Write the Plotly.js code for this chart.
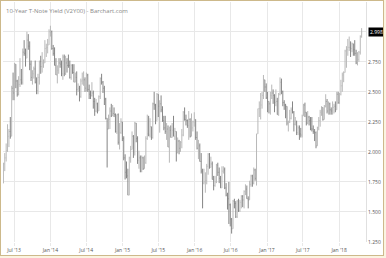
<!DOCTYPE html>
<html><head><meta charset="utf-8">
<script src="https://cdn.plot.ly/plotly-3.0.1.min.js"></script>
<style>
html,body{margin:0;padding:0;background:#fbf4e2;width:386px;height:258px;overflow:hidden}
#frame{position:absolute;left:0;top:0;width:382px;height:254px;border:1px solid #cdb98b;background:#fff}
#chart{width:382px;height:254px}
</style></head><body>
<div id="frame"><div id="chart"></div></div>
<script>
const chartTitle = "10-Year T-Note Yield (V2Y00) - Barchart.com";
const firstWeek = "2013-05-08"; // weekly bars, one per week
const lastPrice = 2.998;

const openVals = [
// 2013
1.74,1.90,1.95,2.01,2.13,2.17,2.13,2.53,2.49,2.73,2.59,2.48,2.56,2.60,2.58,2.83,2.82,2.78,2.93,2.88,2.73,2.62,2.65,2.69,2.58,2.51,2.62,2.75,2.71,2.74,2.74,2.86,2.87,2.89,
// 2014
3.00,3.00,2.86,2.82,2.72,2.64,2.68,2.74,2.73,2.65,2.79,2.65,2.74,2.72,2.72,2.62,2.72,2.66,2.58,2.62,2.52,2.53,2.46,2.59,2.60,2.60,2.53,2.64,2.52,2.48,2.47,2.49,2.42,2.34,2.40,2.34,2.46,2.61,2.58,2.53,2.44,2.28,2.19,2.27,2.34,2.30,2.32,2.31,2.17,2.31,2.08,2.16,
// 2015
2.25,2.11,1.95,1.83,1.80,1.64,1.95,2.02,2.13,2.00,2.24,2.11,1.93,1.95,1.84,1.95,1.86,1.91,2.11,2.15,2.14,2.21,2.12,2.40,2.39,2.26,2.48,2.38,2.40,2.35,2.26,2.20,2.17,2.19,2.04,2.18,2.12,2.18,2.13,2.17,1.99,2.09,2.03,2.08,2.14,2.33,2.27,2.26,2.22,2.27,2.13,2.20,
// 2016
2.25,2.27,2.12,2.03,2.05,1.92,1.84,1.74,1.75,1.76,1.88,1.98,1.87,1.90,1.77,1.72,1.75,1.89,1.83,1.78,1.70,1.84,1.85,1.70,1.64,1.61,1.56,1.44,1.36,1.59,1.57,1.46,1.59,1.51,1.58,1.63,1.60,1.67,1.69,1.61,1.60,1.73,1.80,1.74,1.85,1.78,2.15,2.36,2.36,2.39,2.47,2.60,2.54,
// 2017
2.45,2.42,2.40,2.47,2.49,2.47,2.41,2.42,2.31,2.48,2.58,2.50,2.41,2.39,2.38,2.24,2.25,2.28,2.35,2.33,2.23,2.25,2.16,2.20,2.15,2.14,2.30,2.39,2.33,2.24,2.29,2.26,2.19,2.19,2.17,2.16,2.05,2.20,2.26,2.33,2.37,2.27,2.38,2.42,2.34,2.40,2.35,2.34,2.37,2.38,2.35,2.48,
// 2018
2.41,2.48,2.55,2.64,2.66,2.84,2.85,2.87,2.87,2.86,2.90,2.85,2.82,2.74,2.77,2.83,2.96
];
const highVals = [
// 2013
1.91,1.99,2.07,2.23,2.19,2.29,2.55,2.66,2.74,2.73,2.60,2.63,2.78,2.69,2.86,2.93,2.86,3.00,2.98,2.92,2.76,2.68,2.71,2.76,2.62,2.65,2.76,2.80,2.83,2.77,2.93,2.90,2.94,3.02,
// 2014
3.05,3.01,2.89,2.87,2.78,2.72,2.78,2.78,2.76,2.81,2.81,2.80,2.78,2.81,2.76,2.73,2.73,2.73,2.66,2.67,2.57,2.55,2.61,2.66,2.67,2.62,2.66,2.65,2.56,2.51,2.58,2.51,2.45,2.44,2.41,2.47,2.62,2.65,2.59,2.55,2.45,2.28,2.31,2.37,2.40,2.39,2.37,2.32,2.31,2.32,2.24,2.28,
// 2015
2.25,2.13,1.98,1.92,1.86,1.96,2.05,2.17,2.14,2.25,2.24,2.13,2.01,1.97,1.97,1.96,1.97,2.13,2.31,2.30,2.28,2.21,2.41,2.50,2.40,2.49,2.48,2.43,2.47,2.38,2.30,2.30,2.24,2.22,2.21,2.22,2.24,2.30,2.20,2.17,2.12,2.10,2.09,2.19,2.34,2.37,2.31,2.27,2.34,2.28,2.32,2.26,
// 2016
2.33,2.27,2.17,2.10,2.07,1.99,1.86,1.86,1.83,1.90,1.99,1.99,1.96,1.92,1.80,1.80,1.90,1.91,1.87,1.80,1.88,1.88,1.87,1.74,1.66,1.75,1.57,1.45,1.60,1.61,1.59,1.60,1.61,1.60,1.64,1.64,1.68,1.73,1.72,1.63,1.76,1.81,1.81,1.87,1.86,2.15,2.36,2.42,2.49,2.50,2.64,2.60,2.57,
// 2017
2.50,2.42,2.50,2.56,2.52,2.48,2.52,2.45,2.49,2.62,2.61,2.51,2.43,2.40,2.38,2.26,2.35,2.37,2.42,2.34,2.29,2.26,2.22,2.22,2.20,2.31,2.40,2.41,2.33,2.34,2.30,2.29,2.29,2.22,2.19,2.17,2.21,2.29,2.35,2.38,2.37,2.39,2.48,2.44,2.42,2.41,2.37,2.42,2.40,2.42,2.50,2.50,
// 2018
2.49,2.60,2.66,2.67,2.85,2.88,2.94,2.96,2.92,2.91,2.90,2.93,2.85,2.83,2.84,2.97,3.03
];
const lowVals = [
// 2013
1.74,1.84,1.92,2.00,2.04,2.11,2.13,2.43,2.43,2.53,2.46,2.47,2.54,2.56,2.56,2.80,2.71,2.78,2.85,2.68,2.59,2.56,2.61,2.57,2.48,2.48,2.56,2.65,2.66,2.70,2.74,2.79,2.82,2.89,
// 2014
2.96,2.85,2.80,2.72,2.64,2.57,2.65,2.70,2.63,2.60,2.63,2.64,2.66,2.70,2.61,2.60,2.65,2.58,2.58,2.47,2.50,2.42,2.45,2.56,2.55,2.50,2.50,2.50,2.44,2.44,2.46,2.36,2.30,2.33,2.32,2.34,2.44,2.56,2.49,2.39,2.27,1.87,2.19,2.19,2.29,2.30,2.29,2.16,2.15,2.06,2.02,2.15,
// 2015
2.09,1.93,1.77,1.78,1.64,1.64,1.91,2.02,1.95,1.97,2.08,1.90,1.86,1.83,1.83,1.85,1.86,1.90,2.10,2.13,2.12,2.10,2.11,2.35,2.23,2.26,2.29,2.16,2.33,2.25,2.18,2.15,2.10,2.04,1.91,2.12,2.12,2.13,2.10,1.92,1.99,1.98,2.00,2.03,2.13,2.26,2.22,2.20,2.10,2.12,2.13,2.17,
// 2016
2.21,2.10,2.02,1.94,1.92,1.82,1.53,1.73,1.66,1.73,1.81,1.86,1.87,1.77,1.68,1.71,1.74,1.80,1.74,1.70,1.70,1.82,1.69,1.63,1.52,1.40,1.38,1.32,1.36,1.53,1.45,1.45,1.50,1.50,1.53,1.54,1.53,1.64,1.61,1.53,1.60,1.71,1.71,1.73,1.76,1.72,2.15,2.29,2.27,2.36,2.44,2.50,2.44,
// 2017
2.33,2.32,2.31,2.44,2.40,2.33,2.38,2.31,2.30,2.47,2.48,2.38,2.35,2.28,2.22,2.17,2.24,2.27,2.32,2.17,2.22,2.14,2.14,2.10,2.12,2.12,2.30,2.29,2.22,2.23,2.22,2.18,2.17,2.15,2.09,2.03,2.05,2.18,2.21,2.30,2.26,2.27,2.37,2.32,2.31,2.31,2.31,2.31,2.32,2.33,2.35,2.40,
// 2018
2.40,2.47,2.50,2.58,2.66,2.70,2.80,2.84,2.79,2.83,2.80,2.80,2.73,2.72,2.75,2.81,2.95
];
const closeVals = [
// 2013
1.90,1.95,2.01,2.13,2.17,2.13,2.53,2.49,2.73,2.59,2.48,2.56,2.60,2.58,2.83,2.82,2.78,2.93,2.88,2.73,2.62,2.65,2.69,2.58,2.51,2.62,2.75,2.71,2.74,2.74,2.86,2.87,2.89,3.00,
// 2014
3.00,2.86,2.82,2.72,2.64,2.68,2.74,2.73,2.65,2.79,2.65,2.74,2.72,2.72,2.62,2.72,2.66,2.58,2.62,2.52,2.53,2.46,2.59,2.60,2.60,2.53,2.64,2.52,2.48,2.47,2.49,2.42,2.34,2.40,2.34,2.46,2.61,2.58,2.53,2.44,2.28,2.19,2.27,2.34,2.30,2.32,2.31,2.17,2.31,2.08,2.16,2.25,
// 2015
2.11,1.95,1.83,1.80,1.64,1.95,2.02,2.13,2.00,2.24,2.11,1.93,1.95,1.84,1.95,1.86,1.91,2.11,2.15,2.14,2.21,2.12,2.40,2.39,2.26,2.48,2.38,2.40,2.35,2.26,2.20,2.17,2.19,2.04,2.18,2.12,2.18,2.13,2.17,1.99,2.09,2.03,2.08,2.14,2.33,2.27,2.26,2.22,2.27,2.13,2.20,2.25,
// 2016
2.27,2.12,2.03,2.05,1.92,1.84,1.74,1.75,1.76,1.88,1.98,1.87,1.90,1.77,1.72,1.75,1.89,1.83,1.78,1.70,1.84,1.85,1.70,1.64,1.61,1.56,1.44,1.36,1.59,1.57,1.46,1.59,1.51,1.58,1.63,1.60,1.67,1.69,1.61,1.60,1.73,1.80,1.74,1.85,1.78,2.15,2.36,2.36,2.39,2.47,2.60,2.54,2.45,
// 2017
2.42,2.40,2.47,2.49,2.47,2.41,2.42,2.31,2.48,2.58,2.50,2.41,2.39,2.38,2.24,2.25,2.28,2.35,2.33,2.23,2.25,2.16,2.20,2.15,2.14,2.30,2.39,2.33,2.24,2.29,2.26,2.19,2.19,2.17,2.16,2.05,2.20,2.26,2.33,2.37,2.27,2.38,2.42,2.34,2.40,2.35,2.34,2.37,2.38,2.35,2.48,2.41,
// 2018
2.48,2.55,2.64,2.66,2.84,2.85,2.87,2.87,2.86,2.90,2.85,2.82,2.74,2.77,2.83,2.96,2.998
];

const yTickVals = [1.25,1.5,1.75,2.0,2.25,2.5,2.75,3.0];
const yTickText = ['1.250','1.500','1.750','2.000','2.250','2.500','2.750',''];
const xTickVals = ['2013-07-01','2014-01-01','2014-07-01','2015-01-01','2015-07-01','2016-01-01','2016-07-01','2017-01-01','2017-07-01','2018-01-01'];
const xTickText = ["Jul '13","Jan '14","Jul '14","Jan '15","Jul '15","Jan '16","Jul '16","Jan '17","Jul '17","Jan '18"];

// weekly x dates
const dates = [];
const t0 = Date.parse(firstWeek + 'T00:00:00Z');
for (let i = 0; i < closeVals.length; i++) {
  dates.push(new Date(t0 + i * 7 * 86400000).toISOString().slice(0, 10));
}

const trace = {
  type: 'ohlc',
  x: dates, open: openVals, high: highVals, low: lowVals, close: closeVals,
  increasing: {line: {color: '#b8b8b8', width: 1}},
  decreasing: {line: {color: '#858585', width: 1}},
  tickwidth: 0.35,
  hoverinfo: 'skip'
};

const layout = {
  width: 382, height: 254,
  margin: {l: 2, r: 17, t: 1, b: 13},
  paper_bgcolor: '#ffffff', plot_bgcolor: '#ffffff',
  showlegend: false,
  font: {family: 'Open Sans, sans-serif', size: 5, color: '#555'},
  xaxis: {
    type: 'date', range: ['2013-05-06', '2018-05-17'],
    tickvals: xTickVals, ticktext: xTickText,
    showgrid: true, gridcolor: '#e8e8e8', gridwidth: 1,
    ticks: 'outside', ticklen: 3, tickcolor: '#e8e8e8',
    zeroline: false, showline: false,
    rangeslider: {visible: false},
    tickfont: {size: 5, color: '#555'}, fixedrange: true
  },
  yaxis: {
    side: 'right', range: [1.25, 3.2475],
    tickvals: yTickVals, ticktext: yTickText,
    showgrid: true, gridcolor: '#e8e8e8', gridwidth: 1,
    ticks: '', zeroline: false,
    showline: true, linecolor: '#e0e0e0', linewidth: 1, mirror: false,
    tickfont: {size: 5, color: '#555'}, fixedrange: true
  },
  annotations: [
    {text: chartTitle, xref: 'paper', yref: 'paper', x: 0, y: 1, xanchor: 'left', yanchor: 'top',
     xshift: 1, yshift: -3, showarrow: false, font: {size: 6, color: '#888'}},
    {text: lastPrice.toFixed(3), xref: 'paper', yref: 'y', x: 1, y: lastPrice, xanchor: 'left', yanchor: 'middle',
     xshift: 2, showarrow: false, bgcolor: '#000', borderpad: 1, font: {size: 5, color: '#fff'}}
  ]
};

Plotly.newPlot('chart', [trace], layout, {displayModeBar: false, staticPlot: true});
</script>
</body></html>
